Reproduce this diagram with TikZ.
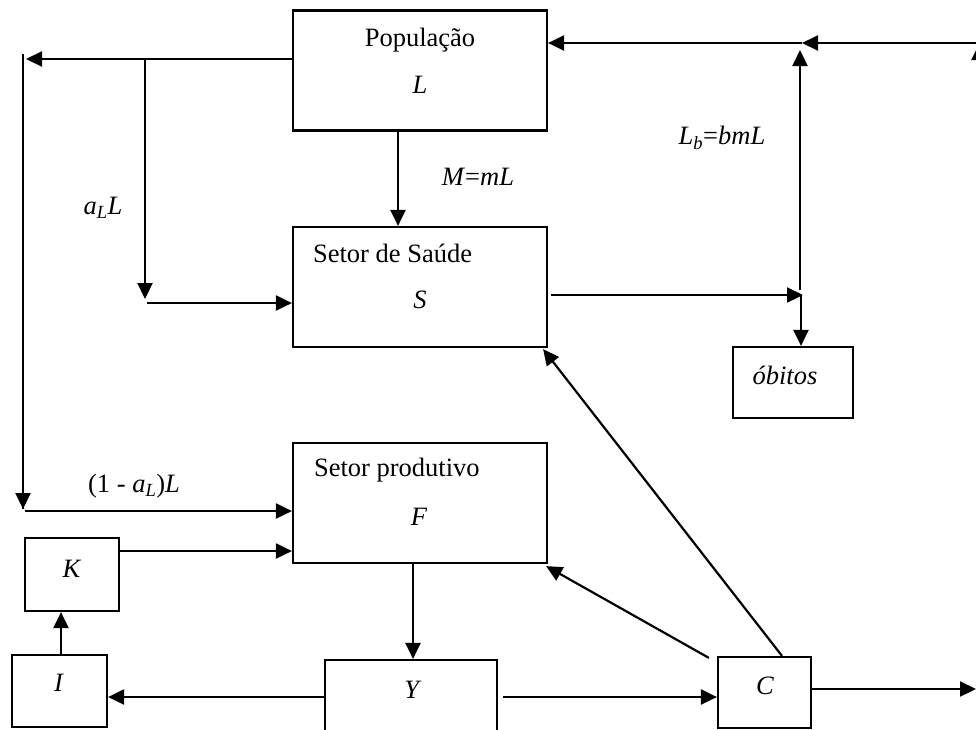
\documentclass[tikz,border=0pt]{standalone}
\usepackage{fontspec}
\setmainfont{Liberation Serif}
\usetikzlibrary{arrows.meta}
\begin{document}
\begin{tikzpicture}[x=1pt,y=-1pt,
  line width=2.2pt,
  box/.style={draw,rectangle,inner sep=0pt,line width=2.2pt},
  txt/.style={inner sep=0pt,font=\fontsize{26.5}{30}\selectfont},
  arr/.style={-{Triangle[length=16pt,width=15pt]}}]
\useasboundingbox (0,0) rectangle (976,729);
\clip (0,0) rectangle (976,729);
% boxes
\node[box,minimum width=254pt,minimum height=120pt] (pop) at (420,70.5) {};
\node[box,minimum width=254pt,minimum height=120pt] (sau) at (420,287) {};
\node[box,minimum width=254pt,minimum height=120pt] (prod) at (420,503) {};
\node[box,minimum width=94pt,minimum height=73pt] (K) at (72,574.5) {};
\node[box,minimum width=95pt,minimum height=72pt] (I) at (59.5,691) {};
\node[box,minimum width=172pt,minimum height=80pt] (Y) at (411,700) {};
\node[box,minimum width=93pt,minimum height=71pt] (C) at (764.5,692.5) {};
\node[box,minimum width=120pt,minimum height=71pt] (obi) at (793,382.5) {};
% texts
\node[txt] (tpop) at (420,40) {População};
\node[txt] (tL) at (420,85) {\textit{L}};
\node[txt,anchor=west] (tsau) at (312,253) {Setor de Saúde};
\node[txt] (tS) at (420,300) {\textit{S}};
\node[txt,anchor=west] (tprod) at (313,470) {Setor produtivo};
\node[txt] (tF) at (419,517) {\textit{F}};
\node[txt] (tK) at (72,569) {\textit{K}};
\node[txt] (tI) at (59,683) {\textit{I}};
\node[txt] (tY) at (413,690) {\textit{Y}};
\node[txt] (tC) at (765,686) {\textit{C}};
\node[txt] (tobi) at (785,375) {\textit{óbitos}};
\node[txt] (l1) at (134,486) {(1 - \textit{a}\textsubscript{\textit{L}})\textit{L}};
\node[txt] (l2) at (103,208) {\textit{a}\textsubscript{\textit{L}}\textit{L}};
\node[txt] (l3) at (478,177) {\textit{M}=\textit{mL}};
\node[txt] (l4) at (722,138) {\textit{L}\textsubscript{\textit{b}}=\textit{bmL}};
% junction coordinates
\coordinate (ltop) at (23,59);
\coordinate (lv0) at (23,54);
\coordinate (lv1) at (23,509);
\coordinate (lh) at (25,511);
\coordinate (br0) at (145,59);
\coordinate (br1) at (145,299);
\coordinate (bh) at (147,303);
\coordinate (xm) at (398,0);
\coordinate (rin) at (976,43);
\coordinate (rj) at (802,43);
\coordinate (rv) at (979,300);
\coordinate (rvt) at (979,44);
\coordinate (vb) at (800,290);
\coordinate (vt) at (800,50);
\coordinate (sh0) at (551,295);
\coordinate (sh1) at (803,295);
\coordinate (od) at (801,295);
\coordinate (ya) at (503,697);
\coordinate (co0) at (810,689);
\coordinate (co1) at (976,689);
\coordinate (xi) at (61,0);
\coordinate (yk) at (0,551);
\coordinate (xf) at (413,0);
% connectors
\draw[arr] (pop.west |- ltop) -- ([xshift=3pt]ltop);
\draw (lv0) -- (lv1);
\draw[arr] (ltop) -- (lv1);
\draw[arr] (lh) -- (prod.west |- lh);
\draw[arr] (br0) -- (br1);
\draw[arr] (bh) -- (sau.west |- bh);
\draw[arr] (pop.south -| xm) -- (sau.north -| xm);
\draw[arr] (rin) -- (rj);
\draw[arr] (rj) -- (pop.east |- rj);
\draw[arr] (rv) -- (rvt);
\draw[arr] (vb) -- (vt);
\draw[arr] (sh0) -- (sh1);
\draw[arr] (od) -- (obi.north -| od);
\draw[arr] ([xshift=17.5pt]C.north) -- ([xshift=-5pt,yshift=-1pt]sau.south east);
\draw[arr] ([xshift=-8pt,yshift=-2pt]C.north west) -- ([xshift=-2pt,yshift=-2pt]prod.south east);
\draw[arr] (ya) -- (C.west |- ya);
\draw[arr] (co0) -- (co1);
\draw[arr] (Y.west |- ya) -- (I.east |- ya);
\draw[arr] (I.north -| xi) -- (K.south -| xi);
\draw[arr] (K.east |- yk) -- (prod.west |- yk);
\draw[arr] (prod.south -| xf) -- (Y.north -| xf);
\end{tikzpicture}
\end{document}
